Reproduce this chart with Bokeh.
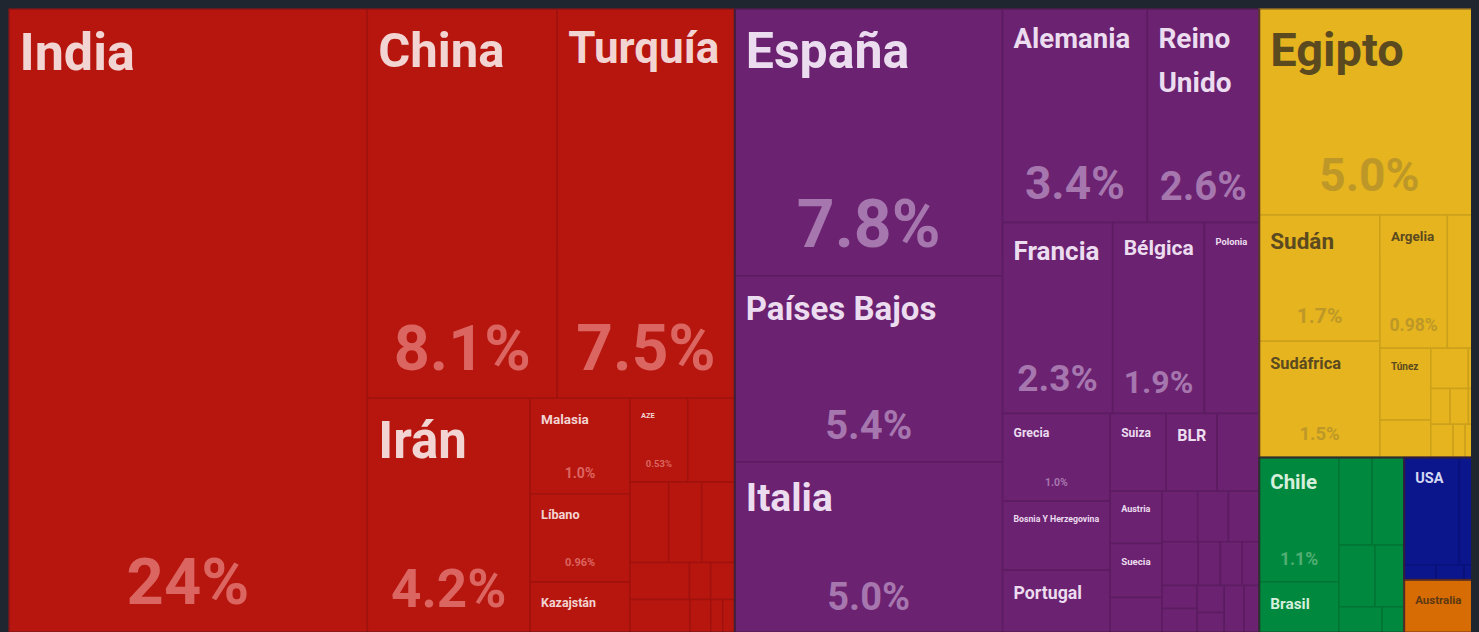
from jinja2 import Template
from bokeh.plotting import figure
from bokeh.models import ColumnDataSource, Range1d
from bokeh.core.properties import value
from bokeh.embed import file_html
from bokeh.resources import INLINE

# ---------------- data (share of total, %) ----------------
countries = [
    "India", "China", "Turquía", "Irán", "Malasia", "Líbano", "Kazajstán", "AZE",
    "a1", "a2", "a3", "a4", "a5", "a6", "a7", "a8", "a9", "a10", "a11",
    "España", "Países Bajos", "Italia", "Alemania", "Reino Unido", "Francia", "Bélgica", "Polonia",
    "Grecia", "Bosnia Y Herzegovina", "Portugal", "Suiza", "BLR", "e1", "Austria", "Suecia", "e2",
    "e3", "e4", "e5", "e6", "e7", "e8", "e9", "e10", "e11", "e12", "e13", "e14", "e15",
    "Egipto", "Sudán", "Sudáfrica", "Argelia", "f1", "Túnez", "f2", "f3", "f4", "f5", "f6", "f7",
    "f8", "f9", "f10",
    "Chile", "Brasil", "s1", "s2", "s3", "s4", "s5", "s6",
    "USA", "n1", "n2", "n3", "n4",
    "Australia", "o1",
]
regions = (["Asia"] * 19 + ["Europa"] * 30 + ["África"] * 15 +
           ["América del Sur"] * 8 + ["América del Norte"] * 5 + ["Oceanía"] * 2)
shares = [
    24.41, 8.07, 7.54, 4.16, 1.04, 0.96, 0.55, 0.53,
    0.43, 0.34, 0.29, 0.29, 0.24, 0.085, 0.097, 0.216, 0.075, 0.043, 0.043,
    7.80, 5.44, 4.98, 3.38, 2.61, 2.29, 1.91, 1.14,
    1.03, 0.81, 0.73, 0.476, 0.433, 0.357, 0.295, 0.306, 0.198,
    0.196, 0.169, 0.169, 0.173, 0.105, 0.105, 0.081, 0.088, 0.092, 0.079, 0.059, 0.102, 0.077,
    4.96, 1.66, 1.53, 0.98, 0.467, 0.398, 0.207, 0.165, 0.049, 0.075, 0.071, 0.043,
    0.081, 0.044, 0.052,
    1.08, 0.44, 0.316, 0.307, 0.243, 0.196, 0.122, 0.062,
    0.647, 0.235, 0.052, 0.046, 0.025,
    0.398, 0.035,
]

# ---------------- tiling order (H = side by side, V = stacked) ----------------
asia = ("H", ["India",
              ("V", [("H", ["China", "Turquía"]),
                     ("H", ["Irán",
                            ("H", [("V", ["Malasia", "Líbano", "Kazajstán"]),
                                   ("V", [("H", ["AZE", "a1"]),
                                          ("H", ["a2", "a3", "a4"]),
                                          ("H", ["a5", "a6", "a7"]),
                                          ("H", ["a8", "a9", "a10", "a11"])])])])])])
europe = ("H", [("V", ["España", "Países Bajos", "Italia"]),
                ("V", [("H", ["Alemania", "Reino Unido"]),
                       ("H", ["Francia", "Bélgica", "Polonia"]),
                       ("H", [("V", ["Grecia", "Bosnia Y Herzegovina", "Portugal"]),
                              ("V", [("H", ["Suiza", "BLR", "e1"]),
                                     ("H", [("V", ["Austria", "Suecia", "e2"]),
                                            ("V", [("H", ["e3", "e4", "e5"]),
                                                   ("H", ["e6", "e7", "e8", "e9"]),
                                                   ("H", [("V", ["e10", "e11"]),
                                                          ("V", ["e12", "e13"]),
                                                          "e14", "e15"])])])])])])])
africa = ("V", ["Egipto",
                ("H", [("V", ["Sudán", "Sudáfrica"]),
                       ("V", [("H", ["Argelia", "f1"]),
                              ("H", [("V", ["Túnez", "f2"]),
                                     ("V", [("H", ["f3", "f4"]),
                                            ("H", ["f5", "f6", "f7"]),
                                            ("H", ["f8", "f9", "f10"])])])])])])
samerica = ("H", [("V", ["Chile", "Brasil"]),
                  ("V", [("H", ["s1", "s2"]), ("H", ["s3", "s4"]), ("H", ["s5", "s6"])])])
namerica = ("V", [("H", ["USA", "n1"]), ("H", ["n2", "n3", "n4"])])
oceania = ("H", ["Australia", "o1"])
tree = ("H", [asia, europe, ("V", [africa, ("H", [samerica, ("V", [namerica, oceania])])])])

# ---------------- styles ----------------
W, H = 1471, 624
FONT = "Roboto"
BG = "#1F2630"
fill = {"Asia": "#B7160F", "Europa": "#6B2270", "África": "#E5B41E",
        "América del Sur": "#00893E", "América del Norte": "#0C168C", "Oceanía": "#D86C04"}
edge = {"Asia": "#A0120D", "Europa": "#5C1C61", "África": "#CDA01B",
        "América del Sur": "#007434", "América del Norte": "#09117A", "Oceanía": "#BD5E03"}
name_col = {"Asia": "#F2D4D2", "Europa": "#EBDCEF", "África": "#5B4A20",
            "América del Sur": "#D6EFDC", "América del Norte": "#D4D8F3", "Oceanía": "#5C3912"}
pct_col = {"Asia": "#DB6560", "Europa": "#A676AE", "África": "#BD9828",
           "América del Sur": "#52AE74", "América del Norte": "#5A62B5", "Oceanía": "#A85A10"}
name_size = {"India": 52, "China": 49, "Turquía": 44, "Irán": 51, "Malasia": 13.5, "Líbano": 12.7,
             "Kazajstán": 12.4, "AZE": 7.5, "España": 50, "Países Bajos": 33, "Italia": 39,
             "Alemania": 27.5, "Reino Unido": 28, "Francia": 26, "Bélgica": 21, "Polonia": 9.4,
             "Grecia": 12.3, "Bosnia Y Herzegovina": 8.7, "Portugal": 17.7, "Suiza": 12, "BLR": 16,
             "Austria": 9, "Suecia": 9.7, "Egipto": 47, "Sudán": 22.5, "Sudáfrica": 16.4,
             "Argelia": 13.5, "Túnez": 10, "Chile": 20.5, "Brasil": 15.4, "USA": 14.5,
             "Australia": 11.5}
pct_size = {"India": 65, "China": 63, "Turquía": 64, "Irán": 53, "Malasia": 14, "Líbano": 11,
            "AZE": 9.5, "España": 66, "Países Bajos": 40, "Italia": 38, "Alemania": 46,
            "Reino Unido": 40, "Francia": 37, "Bélgica": 32, "Grecia": 10.5, "Egipto": 46,
            "Sudán": 21, "Sudáfrica": 18.5, "Argelia": 17.5, "Chile": 17.5}

# ---------------- layout from values ----------------
share_of = dict(zip(countries, shares))
region_of = dict(zip(countries, regions))


def total(n):
    return share_of[n] if isinstance(n, str) else sum(total(k) for k in n[1])


boxes = {}


def place(n, x0, y0, x1, y1):
    if isinstance(n, str):
        boxes[n] = (x0, y0, x1, y1)
        return
    kind, kids = n
    t = total(n)
    pos = x0 if kind == "H" else y0
    for k in kids:
        f = total(k) / t
        if kind == "H":
            w = (x1 - x0) * f
            place(k, pos, y0, pos + w, y1)
            pos += w
        else:
            h = (y1 - y0) * f
            place(k, x0, pos, x1, pos + h)
            pos += h


place(tree, 0, 0, W, H)


def fmt(v):
    if v >= 10:
        return f"{v:.0f}%"
    if v >= 1:
        return f"{v:.1f}%"
    return f"{v:.2f}%"


tiles = dict(left=[], right=[], top=[], bottom=[], fill=[], line=[])
for c in countries:
    x0, y0, x1, y1 = boxes[c]
    r = region_of[c]
    tiles["left"].append(x0); tiles["right"].append(x1)
    tiles["top"].append(y0); tiles["bottom"].append(y1)
    tiles["fill"].append(fill[r]); tiles["line"].append(edge[r])

groups = dict(left=[], right=[], top=[], bottom=[])
for r in fill:
    bs = [boxes[c] for c in countries if region_of[c] == r]
    groups["left"].append(min(b[0] for b in bs)); groups["top"].append(min(b[1] for b in bs))
    groups["right"].append(max(b[2] for b in bs)); groups["bottom"].append(max(b[3] for b in bs))

names = dict(x=[], y=[], text=[], size=[], color=[])
pcts = dict(x=[], y=[], text=[], size=[], color=[])
for c in countries:
    x0, y0, x1, y1 = boxes[c]
    r = region_of[c]
    if c in name_size:
        s = name_size[c]
        names["x"].append(x0 + 11); names["y"].append(y0 + 13)
        names["text"].append(c.replace("Reino Unido", "Reino\nUnido"))
        names["size"].append(f"{s}px"); names["color"].append(name_col[r])
    if c in pct_size:
        s = pct_size[c]
        pcts["x"].append((x0 + x1) / 2); pcts["y"].append(y1 - (13 + 0.58 * s))
        pcts["text"].append(fmt(share_of[c]))
        pcts["size"].append(f"{s}px"); pcts["color"].append(pct_col[r])

p = figure(width=W, height=H, x_range=Range1d(0, W), y_range=Range1d(H, 0),
           output_backend="svg", toolbar_location=None, min_border=0,
           background_fill_color=BG, border_fill_color=BG)
p.axis.visible = False
p.grid.visible = False
p.outline_line_color = None

p.quad(left="left", right="right", top="top", bottom="bottom", source=ColumnDataSource(tiles),
       fill_color="fill", line_color="line", line_width=1.5)
p.quad(left="left", right="right", top="top", bottom="bottom", source=ColumnDataSource(groups),
       fill_color=None, line_color="#3A1F30", line_alpha=0.55, line_width=2)
p.text(x="x", y="y", text="text", source=ColumnDataSource(names), text_font=value(FONT),
       text_font_style="bold", text_font_size="size", text_color="color",
       text_baseline="top", text_align="left", text_line_height=1.35)
p.text(x="x", y="y", text="text", source=ColumnDataSource(pcts), text_font=value(FONT),
       text_font_style="bold", text_font_size="size", text_color="color",
       text_baseline="alphabetic", text_align="center")

template = Template("""{% extends base %}
{% block postamble %}<style>html, body { background: #1F2630; } body { margin: 8px !important; }</style>{% endblock %}""")
open("out.html", "w").write(file_html(p, INLINE, template=template))
